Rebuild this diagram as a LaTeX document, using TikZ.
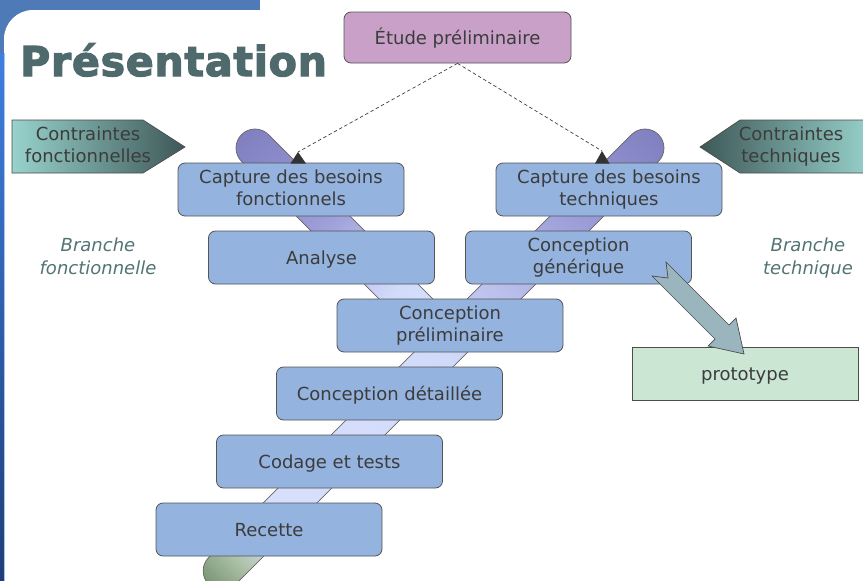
\documentclass[tikz,border=0pt]{standalone}
\usepackage{fontspec}
\setmainfont{DejaVu Sans}
\newfontfamily\titlefont{DejaVu Sans Bold}[FakeBold=3, LetterSpace=2]
\usetikzlibrary{arrows.meta}

\definecolor{boxblue}{HTML}{94B3DE}
\definecolor{etudeviolet}{HTML}{C8A0C8}
\definecolor{protogreen}{HTML}{CCE6D4}
\definecolor{textgray}{HTML}{3C3C3C}
\definecolor{linegray}{HTML}{555555}
\definecolor{titlegray}{HTML}{4E6A6C}
\definecolor{branchgray}{HTML}{527474}
\definecolor{arrowgray}{HTML}{9AB5BD}
\definecolor{tealL}{HTML}{98D2CC}
\definecolor{tealD}{HTML}{3E5858}
\definecolor{bandA}{HTML}{8080C0}
\definecolor{bandB}{HTML}{9C9CD8}
\definecolor{bandC}{HTML}{B8BCEA}
\definecolor{bandD}{HTML}{D2DAFA}
\definecolor{bandE}{HTML}{D8E0FC}
\definecolor{greenA}{HTML}{B0C4AC}
\definecolor{greenB}{HTML}{789270}
\definecolor{topblue}{HTML}{4E7AB8}
\definecolor{stripTop}{HTML}{3F7FDF}
\definecolor{stripBot}{HTML}{1F3E78}
\definecolor{stripEdge}{HTML}{A8C4F0}

% fill a band segment from u=#1 to u=#2 with colours going from #3 to #4
\newcommand\gradslices[4]{%
  \foreach \k in {0,...,49}{%
    \pgfmathsetmacro\ua{#1+(#2-#1)*\k/50}%
    \pgfmathsetmacro\ub{#1+(#2-#1)*(\k+1)/50+0.6}%
    \pgfmathtruncatemacro\pc{100*(\k+0.5)/50}%
    \fill[#4!\pc!#3] (\ua,-25) rectangle (\ub,25);
  }}

% struts giving every text block the same first-line height and last-line depth
\newcommand\nodetopstrut{\rule{0pt}{18pt}}
\newcommand\nodebotstrut{\rule[-4pt]{0pt}{4pt}}

\tikzset{
  strutted/.style={execute at begin node=\nodetopstrut,
    execute at end node=\nodebotstrut},
  stagebox/.style={strutted, draw=linegray, line width=0.8pt, fill=boxblue,
    rounded corners=7pt, minimum width=226pt, minimum height=53pt,
    inner sep=0pt, align=center, text=textgray,
    font=\fontsize{18}{22}\selectfont},
  etudebox/.style={stagebox, fill=etudeviolet, minimum width=227pt, minimum height=51pt},
  protobox/.style={stagebox, fill=protogreen, rounded corners=0pt, draw=black!70},
  bandedge/.style={draw=black!60, line width=0.7pt},
  dashline/.style={draw=black!75, line width=0.7pt, dash pattern=on 3.5pt off 2.5pt},
  tipfill/.style={fill=black!80},
  constraint/.style={draw=black!70, line width=0.7pt},
  constrtext/.style={strutted, align=center, text=textgray, inner sep=0pt,
    font=\fontsize{18}{22}\selectfont},
  branchtext/.style={strutted, align=center, text=branchgray, inner sep=0pt,
    font=\fontsize{18}{23}\selectfont\itshape},
  blockarrow/.style={fill=arrowgray, draw=black!70, line width=0.7pt, line join=miter},
}

\begin{document}
\begin{tikzpicture}[x=1pt, y=-1pt]
\useasboundingbox (0,0) rectangle (863,581);
\clip (0,0) rectangle (863,581);

% slide frame: top bar, rounded corner and left strip
\fill[topblue] (0,0) rectangle (260,10);
\fill[topblue] (0,0) rectangle (45,60);
\fill[white, rounded corners=29pt] (4,10) rectangle (300,300);
\fill[topblue] (0,0) rectangle (4,53);
\shade[top color=stripTop, bottom color=stripBot] (0,53) rectangle (4,581);
\draw[stripEdge, line width=1pt] (4.5,53) -- (4.5,581);

% title
\node[anchor=base west, inner sep=0pt, text=titlegray,
  font=\fontsize{41}{48}\selectfont\titlefont] (title) at (20,76) {Présentation};

% functional branch band
\begin{scope}[shift={(255,148)}, rotate=-45]
  \begin{scope}
    \clip (250,-19) -- (0,-19) arc(270:90:19) -- (250,19) -- cycle;
    \gradslices{-20}{100}{bandA}{bandB}
    \gradslices{100}{200}{bandB}{bandD}
    \gradslices{200}{252}{bandD}{bandE}
  \end{scope}
  \draw[bandedge] (250,-19) -- (0,-19) arc(270:90:19) -- (250,19);
\end{scope}

% technical branch band, continuing down to the end of the process
\begin{scope}[shift={(645,148)}, rotate=-135]
  \begin{scope}
    \clip (0,-19) arc(270:90:19) -- (598,19) arc(90:-90:19) -- cycle;
    \gradslices{-20}{96}{bandA}{bandB}
    \gradslices{96}{192}{bandB}{bandC}
    \gradslices{192}{290}{bandC}{bandD}
    \gradslices{290}{540}{bandD}{bandE}
    \gradslices{540}{578}{bandE}{greenA}
    \gradslices{578}{620}{greenA}{greenB}
  \end{scope}
  \draw[bandedge] (0,-19) arc(270:90:19) -- (598,19) arc(90:-90:19) -- cycle;
\end{scope}

% constraints
\shade[constraint, left color=tealL, right color=tealD]
  (12,120) -- (143,120) -- (185,147) -- (143,173) -- (12,173) -- cycle;
\node[constrtext] (cf) at (88,147) {Contraintes\\fonctionnelles};
\shade[constraint, left color=tealD, right color=tealL]
  (700,147) -- (740,120) -- (872,120) -- (872,173) -- (740,173) -- cycle;
\node[constrtext] (ct) at (791,147) {Contraintes\\techniques};

% branch labels
\node[branchtext] (bf) at (98,258.5) {Branche\\fonctionnelle};
\node[branchtext] (bt) at (808,258.5) {Branche\\technique};

% stages
\node[etudebox] (etude) at (457.5,37.5) {Étude préliminaire};
\node[stagebox] (capf) at (291,189.5) {Capture des besoins\\fonctionnels};
\node[stagebox] (capt) at (609,189.5) {Capture des besoins\\techniques};
\node[stagebox] (analyse) at (321.5,257.5) {Analyse};
\node[stagebox] (cgen) at (578.5,257.5) {Conception\\générique};
\node[stagebox] (cpre) at (450,325.5) {Conception\\préliminaire};
\node[stagebox] (cdet) at (389.5,393.5) {Conception détaillée};
\node[stagebox] (codage) at (329.5,461.5) {Codage et tests};
\node[stagebox] (recette) at (269,529.5) {Recette};
\node[protobox] (proto) at (745,373.5) {prototype};

% dashed links from the preliminary study
\coordinate (tipL) at (298,152);
\coordinate (tipR) at (602,151);
\draw[dashline] (etude.south) -- (tipL);
\draw[dashline] (etude.south) -- (tipR);
\fill[tipfill] (tipL) -- (290.5,163.5) -- (306,163.5) -- cycle;
\fill[tipfill] (tipR) -- (595,163.5) -- (609.5,163.5) -- cycle;

% block arrow towards the prototype
\filldraw[blockarrow] (666,262) -- (729,325) -- (736,318) -- (744,354)
  -- (708,346) -- (715,339) -- (652,276) -- (668,278) -- cycle;

\end{tikzpicture}
\end{document}
